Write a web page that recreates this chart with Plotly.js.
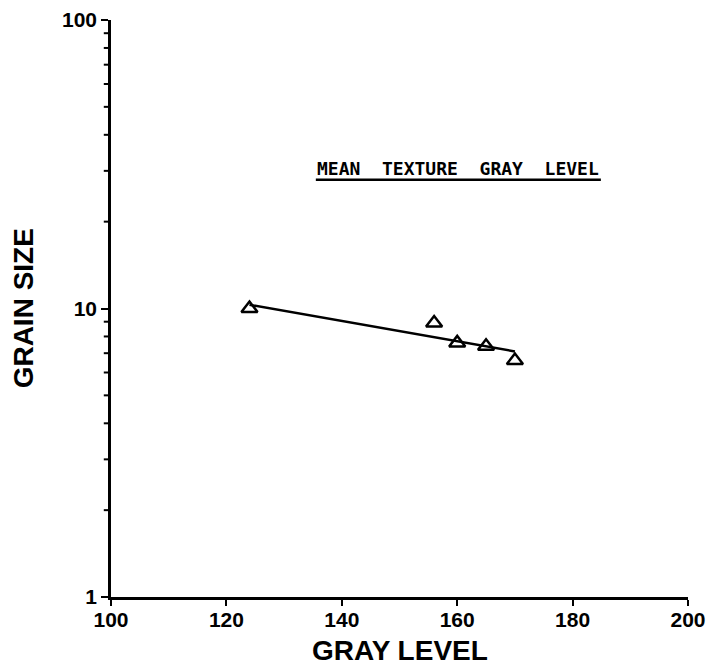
<!DOCTYPE html>
<html>
<head>
<meta charset="utf-8">
<script src="https://cdn.plot.ly/plotly-3.0.1.min.js"></script>
<style>html,body{margin:0;padding:0;background:#fff;}#chart{width:712px;height:668px;}</style>
</head>
<body>
<div id="chart"></div>
<script>
// Data
const grayLevel = [124, 156, 160, 165, 170];
const grainSize = [10.0, 8.9, 7.6, 7.4, 6.6];
const fitX = [124, 170];
const fitY = [10.3, 7.1];
const yTickVals = [1, 10, 100];
const yTickText = ['1', '10', '100'];
const yMinorVals = [2, 3, 4, 5, 6, 7, 8, 9, 20, 30, 40, 50, 60, 70, 80, 90];
const xTitle = 'GRAY LEVEL';
const yTitle = 'GRAIN SIZE';
const annotationText = 'MEAN  TEXTURE  GRAY  LEVEL';

function tf() { return {family: 'Liberation Sans', size: 21, color: '#000', weight: 'bold'}; }

// minor log ticks on the y axis, placed through the y scale
const minorTickShapes = yMinorVals.map(v => ({
  type: 'line', xref: 'paper', yref: 'y', x0: -0.0125, x1: 0, y0: v, y1: v,
  line: {color: '#000', width: 2}
}));

Plotly.newPlot('chart', [
  {x: fitX, y: fitY, type: 'scatter', mode: 'lines', line: {color: '#000', width: 2.5}},
  {x: grayLevel, y: grainSize, type: 'scatter', mode: 'markers',
   marker: {symbol: 'triangle-up-open', size: 14, color: '#000', line: {color: '#000', width: 2.5}}}
], {
  width: 712, height: 668,
  margin: {l: 111, r: 24, t: 20, b: 71},
  showlegend: false,
  xaxis: {
    range: [100, 200], tickmode: 'linear', tick0: 100, dtick: 20,
    ticks: 'outside', ticklen: 6, tickwidth: 2, tickcolor: '#000', ticklabelstandoff: -4,
    showline: true, linecolor: '#000', linewidth: 2.5, showgrid: false, zeroline: false,
    tickfont: tf()
  },
  yaxis: {
    type: 'log', range: [0, 2], tickmode: 'array', tickvals: yTickVals, ticktext: yTickText,
    ticks: 'outside', ticklen: 7, tickwidth: 2, tickcolor: '#000',
    showline: true, linecolor: '#000', linewidth: 2.5, showgrid: false, zeroline: false,
    tickfont: tf()
  },
  annotations: [
    {xref: 'paper', yref: 'paper', x: 0.601, y: 0.7435, xanchor: 'center', yanchor: 'middle',
     text: '<b>' + annotationText + '</b>', showarrow: false,
     font: {family: 'DejaVu Sans Mono', size: 18, color: '#000'}},
    {xref: 'paper', yref: 'paper', x: 0.5, y: -0.092, xanchor: 'center', yanchor: 'middle',
     text: '<b>' + xTitle + '</b>', showarrow: false,
     font: {family: 'Liberation Sans', size: 28, color: '#000'}},
    {xref: 'paper', yref: 'paper', x: -0.151, y: 0.5, xanchor: 'center', yanchor: 'middle', textangle: -90,
     text: '<b>' + yTitle + '</b>', showarrow: false,
     font: {family: 'Liberation Sans', size: 28, color: '#000'}}
  ],
  shapes: [{
    type: 'line', xref: 'paper', yref: 'paper', x0: 0.355, x1: 0.849, y0: 0.723, y1: 0.723,
    line: {color: '#000', width: 2.5}
  }].concat(minorTickShapes)
}, {displayModeBar: false});
</script>
</body>
</html>
